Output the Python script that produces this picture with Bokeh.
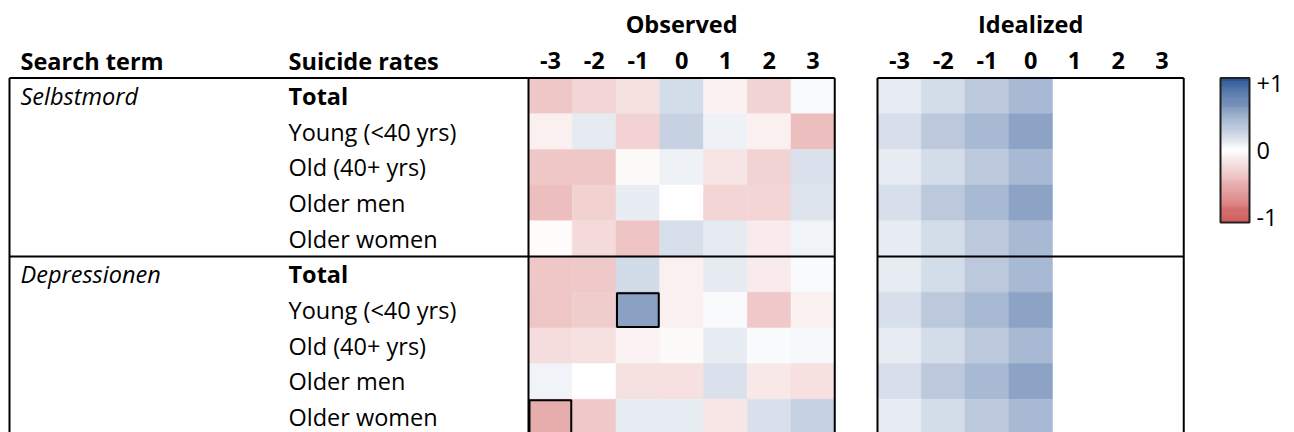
import numpy as np
from bokeh.plotting import figure
from bokeh.models import Range1d, LinearColorMapper, ColumnDataSource
from bokeh.transform import transform
from bokeh.core.properties import value
from bokeh.embed import file_html
from bokeh.resources import INLINE

# ---------------- data ----------------
lags = [-3, -2, -1, 0, 1, 2, 3]
lag_labels = ["-3", "-2", "-1", "0", "1", "2", "3"]
search_terms = ["Selbstmord", "Depressionen"]
subgroups = ["Total", "Young (<40 yrs)", "Old (40+ yrs)", "Older men", "Older women"]

observed_selbstmord = [
    [-0.32, -0.24, -0.17, 0.20, -0.08, -0.25, 0.03],
    [-0.09, 0.12, -0.26, 0.27, 0.08, -0.09, -0.38],
    [-0.32, -0.32, -0.03, 0.08, -0.16, -0.25, 0.17],
    [-0.38, -0.27, 0.11, -0.01, -0.24, -0.24, 0.16],
    [-0.02, -0.21, -0.34, 0.19, 0.12, -0.12, 0.07],
]
observed_depressionen = [
    [-0.32, -0.31, 0.21, -0.09, 0.12, -0.12, 0.03],
    [-0.33, -0.29, 0.55, -0.09, 0.03, -0.31, -0.08],
    [-0.20, -0.18, -0.07, -0.03, 0.11, 0.02, 0.04],
    [0.07, 0.00, -0.17, -0.18, 0.17, -0.13, -0.18],
    [-0.47, -0.31, 0.11, 0.11, -0.15, 0.18, 0.27],
]
# idealized values exist only for lags -3..0
idealized_lags = [-3, -2, -1, 0]
idealized_selbstmord = [
    [0.11, 0.20, 0.31, 0.41],
    [0.19, 0.31, 0.41, 0.53],
    [0.11, 0.20, 0.31, 0.41],
    [0.19, 0.31, 0.41, 0.53],
    [0.11, 0.20, 0.31, 0.41],
]
idealized_depressionen = [
    [0.11, 0.20, 0.31, 0.41],
    [0.19, 0.31, 0.41, 0.53],
    [0.11, 0.20, 0.31, 0.41],
    [0.19, 0.31, 0.41, 0.53],
    [0.11, 0.20, 0.31, 0.41],
]
significant = [("Depressionen", "Young (<40 yrs)", -1), ("Depressionen", "Older women", -3)]
cbar_ticks = [1, 0, -1]
cbar_labels = ["+1", "0", "-1"]

# ---------------- layout constants ----------------
FONT = "Open Sans"
FS = "23.5px"
W, H = 1294, 432
OBS_X0 = 528.0
IDL_X0 = 877.0
CW = 43.75
TOP = 77.5
RH = 35.7
TABLE_X0 = 9.0
TERM_X = 20.0
SUB_X = 288.0
HEAD_Y = 60.0
TITLE_Y = 23.0
CB_X0, CB_X1, CB_TOP, CB_BOT = 1220.0, 1249.0, 77.5, 222.0

# colour map: red - white - blue
def interp(c0, c1, n):
    return ["#%02x%02x%02x" % tuple(int(round(a + (b - a) * t)) for a, b in zip(c0, c1))
            for t in np.linspace(0, 1, n)]

red_end = (205, 82, 82)
white = (255, 255, 255)
blue_end = (42, 84, 148)
palette = interp(red_end, white, 128) + interp(white, blue_end, 128)[1:]
mapper = LinearColorMapper(palette=palette, low=-1, high=1)

p = figure(width=W, height=H, x_range=Range1d(0, W), y_range=Range1d(H, 0),
           output_backend="svg", toolbar_location=None, min_border=0,
           x_axis_location=None, y_axis_location=None, outline_line_color=None,
           background_fill_color="white", border_fill_color="white")
p.grid.visible = False

def row_y(g, r):
    return TOP + (g * len(subgroups) + r + 0.5) * RH

def col_x(x0, lag):
    return x0 + (lags.index(lag) + 0.5) * CW

# heatmap cells
cx, cy, cv = [], [], []
for g, mat in enumerate([observed_selbstmord, observed_depressionen]):
    for r, row in enumerate(mat):
        for lag, v in zip(lags, row):
            cx.append(col_x(OBS_X0, lag)); cy.append(row_y(g, r)); cv.append(v)
for g, mat in enumerate([idealized_selbstmord, idealized_depressionen]):
    for r, row in enumerate(mat):
        for lag, v in zip(idealized_lags, row):
            cx.append(col_x(IDL_X0, lag)); cy.append(row_y(g, r)); cv.append(v)
src = ColumnDataSource(dict(x=cx, y=cy, v=cv))
p.rect("x", "y", width=CW, height=RH, source=src, fill_color=transform("v", mapper),
       line_color=transform("v", mapper), line_width=0.5)

# significant cells
sx = [col_x(OBS_X0, lag) for t, s, lag in significant]
sy = [row_y(search_terms.index(t), subgroups.index(s)) for t, s, lag in significant]
p.rect(sx, sy, width=CW - 2, height=RH - 2, fill_color=None, line_color="black", line_width=2)

# table lines
n_rows = len(search_terms) * len(subgroups)
bottom = TOP + n_rows * RH
obs_x1 = OBS_X0 + len(lags) * CW
idl_x1 = IDL_X0 + len(lags) * CW
sep_y = [TOP + g * len(subgroups) * RH for g in range(1, len(search_terms))]
x0s = [TABLE_X0, TABLE_X0, OBS_X0, obs_x1, IDL_X0, idl_x1, TABLE_X0, IDL_X0, IDL_X0]
y0s = [TOP, TOP, TOP, TOP, TOP, TOP, bottom, bottom, TOP]
x1s = [TABLE_X0, obs_x1, OBS_X0, obs_x1, IDL_X0, idl_x1, obs_x1, idl_x1, idl_x1]
y1s = [bottom, TOP, bottom, bottom, bottom, bottom, bottom, bottom, TOP]
for sy_ in sep_y:
    x0s += [TABLE_X0, IDL_X0]; y0s += [sy_, sy_]; x1s += [obs_x1, idl_x1]; y1s += [sy_, sy_]
p.segment(x0s, y0s, x1s, y1s, line_color="black", line_width=2)

# colour bar
nb = 150
edges = np.linspace(CB_BOT, CB_TOP, nb + 1)
vals = np.linspace(-1, 1, nb)
cb = ColumnDataSource(dict(bottom=edges[:-1], top=edges[1:], v=vals))
p.quad(left=CB_X0, right=CB_X1, bottom="bottom", top="top", source=cb,
       fill_color=transform("v", mapper), line_color=transform("v", mapper), line_width=0.5)
p.quad(left=[CB_X0], right=[CB_X1], bottom=[CB_BOT], top=[CB_TOP], fill_color=None,
       line_color="#222222", line_width=2)
inset = 5
cb_y = [CB_TOP + inset + (1 - t) / 2 * (CB_BOT - CB_TOP - 2 * inset) for t in cbar_ticks]
p.text([CB_X1 + 7] * 3, cb_y, text=cbar_labels, text_font=value(FONT), text_font_size=FS,
       text_baseline="middle", text_align="left", text_color="black")

# titles and headers
p.text([OBS_X0 + len(lags) * CW / 2, IDL_X0 + len(lags) * CW / 2], [TITLE_Y, TITLE_Y],
       text=["Observed", "Idealized"], text_font=value(FONT), text_font_size=FS,
       text_font_style="bold", text_align="center", text_baseline="middle", text_color="black")
hx = [col_x(OBS_X0, l) for l in lags] + [col_x(IDL_X0, l) for l in lags]
p.text(hx, [HEAD_Y] * len(hx), text=lag_labels * 2, text_font=value(FONT), text_font_size=FS,
       text_font_style="bold", text_align="center", text_baseline="middle", text_color="black")
p.text([TERM_X, SUB_X], [HEAD_Y, HEAD_Y], text=["Search term", "Suicide rates"],
       text_font=value(FONT), text_font_size=FS, text_font_style="bold",
       text_align="left", text_baseline="middle", text_color="black")

# row labels
p.text([TERM_X] * len(search_terms), [row_y(g, 0) for g in range(len(search_terms))],
       text=search_terms, text_font=value(FONT), text_font_size=FS, text_font_style="italic",
       text_align="left", text_baseline="middle", text_color="black")
bold_x, bold_y, bold_t, nx, ny, nt = [], [], [], [], [], []
for g in range(len(search_terms)):
    for r, s in enumerate(subgroups):
        if r == 0:
            bold_x.append(SUB_X); bold_y.append(row_y(g, r)); bold_t.append(s)
        else:
            nx.append(SUB_X); ny.append(row_y(g, r)); nt.append(s)
p.text(bold_x, bold_y, text=bold_t, text_font=value(FONT), text_font_size=FS,
       text_font_style="bold", text_align="left", text_baseline="middle", text_color="black")
p.text(nx, ny, text=nt, text_font=value(FONT), text_font_size=FS,
       text_align="left", text_baseline="middle", text_color="black")

open("out.html", "w").write(file_html(p, INLINE))
